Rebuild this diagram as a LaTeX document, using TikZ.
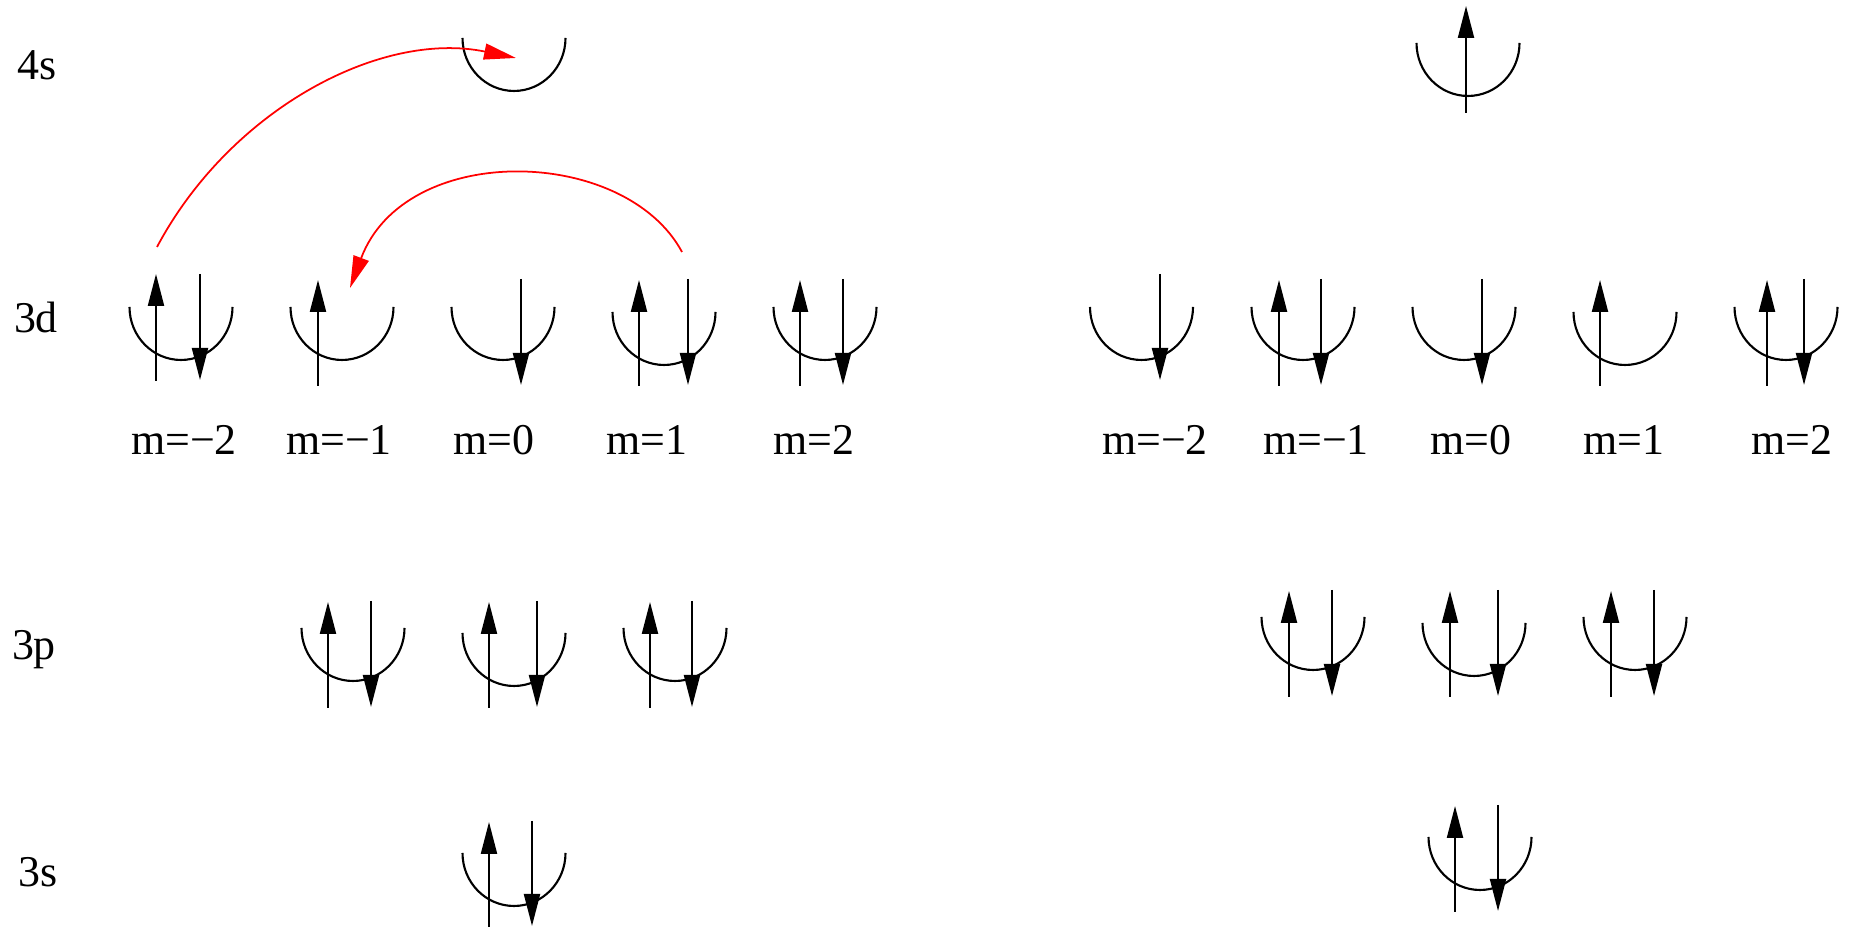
\documentclass[tikz,border=0pt]{standalone}
\usepackage{fontspec}
\setmainfont{Liberation Serif}
\usetikzlibrary{arrows.meta}

\begin{document}
\begin{tikzpicture}[line width=0.6pt,
    spin/.style={-{Triangle[length=3.2mm,width=1.6mm]}},
    hop/.style={red, line width=0.5pt, -{Triangle[length=3.2mm,width=1.6mm]}},
    txt/.style={anchor=base, inner sep=0pt, font=\fontsize{12.5}{15}\selectfont},
    orb/.pic={\draw (-0.515,0) arc[start angle=180, end angle=360, x radius=0.515, y radius=0.53];}]
      \useasboundingbox (0,0) rectangle (18.51,9.28);

      \node[txt] (l4s) at (0.37,8.48) {4s};
      \node[txt] (l3d) at (0.36,5.95) {3d};
      \node[txt] (l3p) at (0.34,2.68) {3p};
      \node[txt] (l3s) at (0.38,0.41) {3s};

      % left column
      \pic at (5.14,8.90) {orb};
      \pic at (1.81,6.21) {orb}; \pic at (3.42,6.21) {orb}; \pic at (5.03,6.21) {orb};
      \pic at (6.64,6.16) {orb}; \pic at (8.25,6.21) {orb};
      \pic at (3.53,3.00) {orb}; \pic at (5.14,2.95) {orb}; \pic at (6.75,3.00) {orb};
      \pic at (5.14,0.75) {orb};

      \draw[spin] (1.56,5.47) -- (1.56,6.54); \draw[spin] (2.00,6.54) -- (2.00,5.48);
      \draw[spin] (3.18,5.42) -- (3.18,6.48);
      \draw[spin] (5.21,6.49) -- (5.21,5.43);
      \draw[spin] (6.39,5.42) -- (6.39,6.48); \draw[spin] (6.88,6.49) -- (6.88,5.43);
      \draw[spin] (8.00,5.42) -- (8.00,6.48); \draw[spin] (8.43,6.49) -- (8.43,5.43);

      \draw[spin] (3.28,2.20) -- (3.28,3.26); \draw[spin] (3.71,3.27) -- (3.71,2.21);
      \draw[spin] (4.89,2.20) -- (4.89,3.26); \draw[spin] (5.37,3.27) -- (5.37,2.21);
      \draw[spin] (6.50,2.20) -- (6.50,3.26); \draw[spin] (6.92,3.27) -- (6.92,2.21);

      \draw[spin] (4.89,0.01) -- (4.89,1.06); \draw[spin] (5.32,1.07) -- (5.32,0.02);

      \node[txt] (lm2) at (1.84,4.73) {m=−2}; \node[txt] (lm1) at (3.39,4.73) {m=−1};
      \node[txt] (l0) at (4.94,4.73) {m=0}; \node[txt] (lp1) at (6.47,4.73) {m=1};
      \node[txt] (lp2) at (8.14,4.73) {m=2};

      \coordinate (from1) at (1.57,6.81); \coordinate (to1) at (5.16,8.70);
      \coordinate (from2) at (6.82,6.76); \coordinate (to2) at (3.50,6.40);
      \draw[hop] (from1) .. controls (2.30,8.18) and (3.80,8.98) .. (to1);
      \draw[hop] (from2) .. controls (6.25,7.82) and (4.05,7.87) .. (to2);

      % right column
      \pic at (14.68,8.85) {orb};
      \pic at (11.415,6.21) {orb}; \pic at (13.03,6.21) {orb}; \pic at (14.64,6.21) {orb};
      \pic at (16.25,6.16) {orb}; \pic at (17.86,6.21) {orb};
      \pic at (13.13,3.11) {orb}; \pic at (14.74,3.05) {orb}; \pic at (16.35,3.11) {orb};
      \pic at (14.80,0.91) {orb};

      \draw[spin] (14.66,8.15) -- (14.66,9.22);

      \draw[spin] (11.60,6.54) -- (11.60,5.48);
      \draw[spin] (12.79,5.42) -- (12.79,6.48); \draw[spin] (13.21,6.49) -- (13.21,5.43);
      \draw[spin] (14.82,6.49) -- (14.82,5.43);
      \draw[spin] (16.00,5.42) -- (16.00,6.48);
      \draw[spin] (17.67,5.42) -- (17.67,6.48); \draw[spin] (18.04,6.49) -- (18.04,5.43);

      \draw[spin] (12.89,2.31) -- (12.89,3.37); \draw[spin] (13.32,3.38) -- (13.32,2.32);
      \draw[spin] (14.50,2.31) -- (14.50,3.37); \draw[spin] (14.98,3.38) -- (14.98,2.32);
      \draw[spin] (16.11,2.31) -- (16.11,3.37); \draw[spin] (16.54,3.38) -- (16.54,2.32);

      \draw[spin] (14.55,0.16) -- (14.55,1.22); \draw[spin] (14.98,1.23) -- (14.98,0.17);

      \node[txt] (rm2) at (11.55,4.73) {m=−2}; \node[txt] (rm1) at (13.16,4.73) {m=−1};
      \node[txt] (r0) at (14.71,4.73) {m=0}; \node[txt] (rp1) at (16.24,4.73) {m=1};
      \node[txt] (rp2) at (17.92,4.73) {m=2};
\end{tikzpicture}
\end{document}
